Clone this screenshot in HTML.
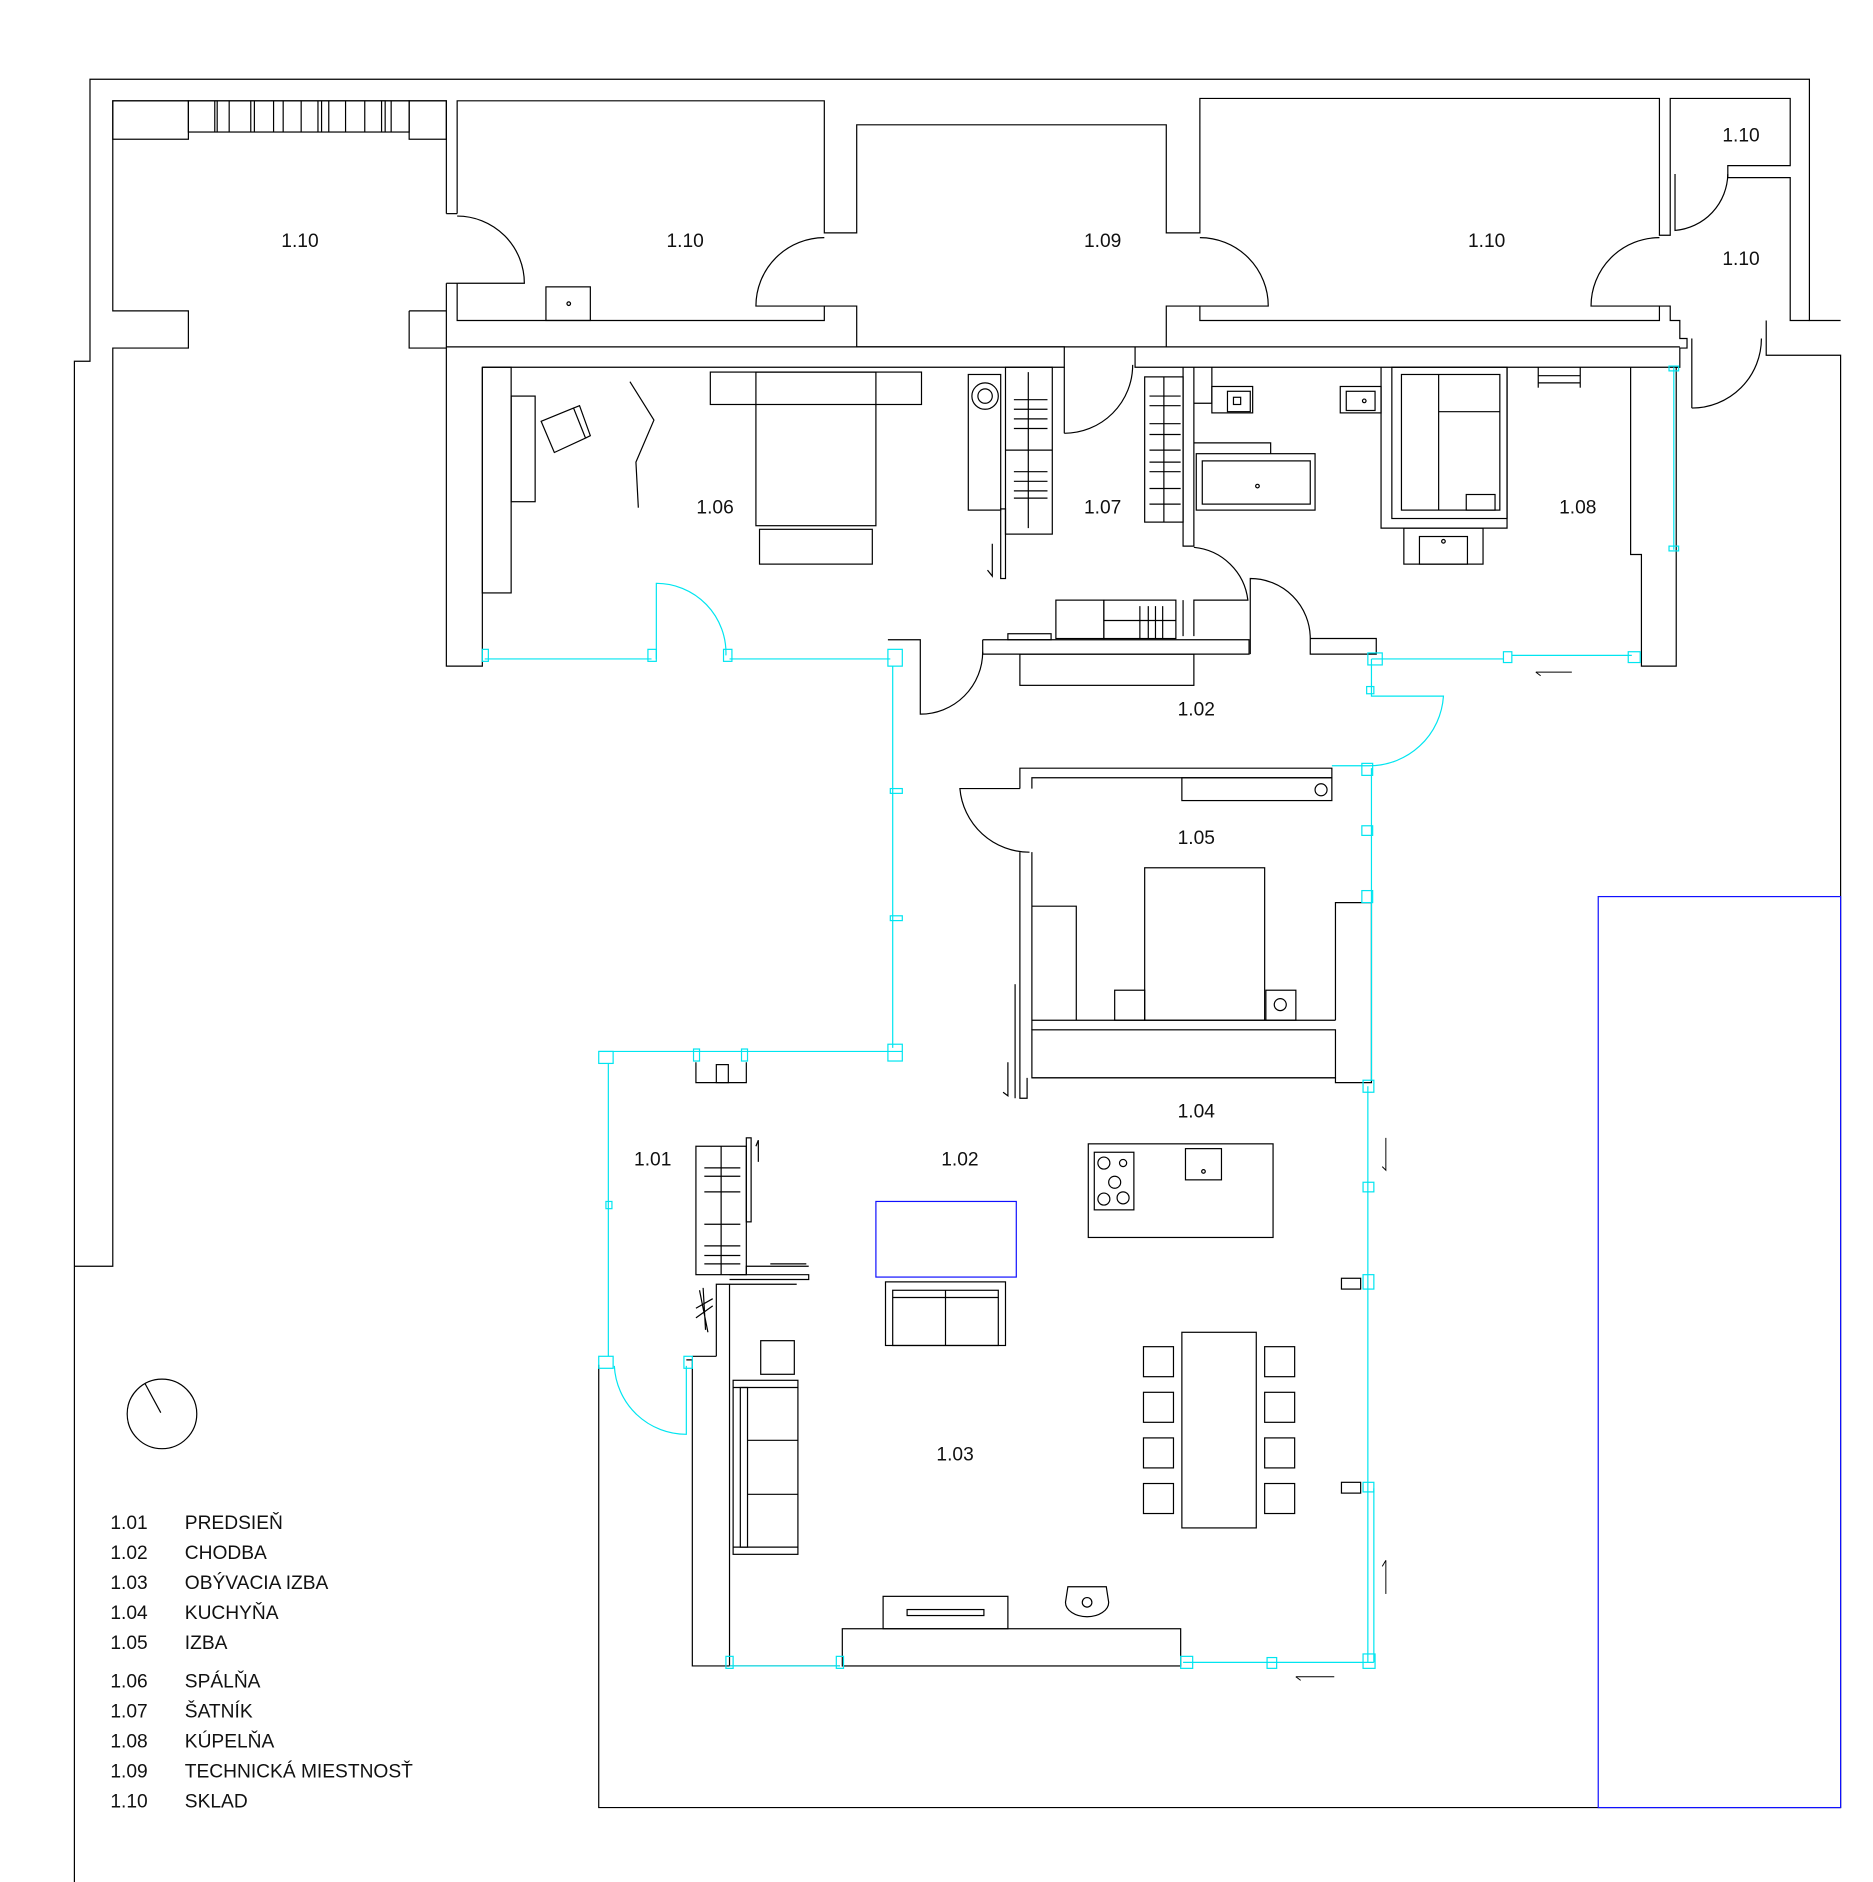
<!DOCTYPE html>
<html><head><meta charset="utf-8"><style>
html,body{margin:0;padding:0;background:#fff}
svg{display:block}
text{font-family:"Liberation Sans",sans-serif;font-size:16px;fill:#111}
</style></head><body>
<svg width="1873" height="1882" viewBox="0 0 1561 1568" preserveAspectRatio="none" xmlns="http://www.w3.org/2000/svg">
<g fill="none" stroke="#000" stroke-width="1">
<!-- outer -->
<polyline points="62,1568 62,301 75,301 75,66 1508,66 1508,267 1534,267"/>
<polyline points="62,1055 94,1055 94,290 157,290 157,259 94,259 94,84 372,84 372,178"/>
<polyline points="1472,267 1472,296 1534,296 1534,1506 499,1506 499,1137"/>
<!-- top-left room -->
<rect x="94" y="84" width="63" height="32"/>
<rect x="157" y="84" width="184" height="26"/>
<rect x="341" y="84" width="31" height="32"/>
<g>
<line x1="179" y1="84" x2="179" y2="110"/><line x1="181" y1="84" x2="181" y2="110"/><line x1="191" y1="84" x2="191" y2="110"/><line x1="209" y1="84" x2="209" y2="110"/><line x1="212" y1="84" x2="212" y2="110"/><line x1="228" y1="84" x2="228" y2="110"/><line x1="236" y1="84" x2="236" y2="110"/><line x1="251" y1="84" x2="251" y2="110"/><line x1="265" y1="84" x2="265" y2="110"/><line x1="268" y1="84" x2="268" y2="110"/><line x1="274" y1="84" x2="274" y2="110"/><line x1="288" y1="84" x2="288" y2="110"/><line x1="304" y1="84" x2="304" y2="110"/><line x1="318" y1="84" x2="318" y2="110"/><line x1="321" y1="84" x2="321" y2="110"/><line x1="326" y1="84" x2="326" y2="110"/>
</g>
<polyline points="372,236 372,555 402,555 402,306"/>
<polyline points="341,259 372,259"/><polyline points="341,259 341,290 372,290"/>
<polyline points="381,178 381,84 687,84 687,194 714,194 714,104 972,104 972,194 1000,194 1000,82 1383,82 1383,196 1392,196 1392,82 1492,82 1492,138 1440,138 1440,148 1492,148 1492,267 1508,267"/>
<polyline points="381,236 381,267 687,267 687,255 714,255 714,289 972,289 972,255 1000,255 1000,267 1383,267 1383,255 1392,255 1392,267 1400,267 1400,282 1406,282 1406,290 1400,290 1400,306 946,306 946,289 1400,289"/>
<polyline points="372,289 887,289 887,306 402,306"/>
<polyline points="372,178 381,178"/><polyline points="372,236 381,236"/>
<rect x="455" y="239" width="37" height="28"/><circle cx="474" cy="253" r="1.5"/>
<!-- doors top -->
<path d="M381,180 A56,56 0 0 1 437,236 L381,236"/>
<path d="M687,198 A57,57 0 0 0 630,255 L687,255"/>
<path d="M1000,198 A57,57 0 0 1 1057,255 L1000,255"/>
<path d="M1383,198 A57,57 0 0 0 1326,255 L1383,255"/>
<path d="M1440,145 A48,48 0 0 1 1396,192 L1396,145"/>
<path d="M1410,340 A58,58 0 0 0 1468,282"/><line x1="1410" y1="282" x2="1410" y2="340"/>
<path d="M887,361 A57,57 0 0 0 944,304"/><line x1="887" y1="306" x2="887" y2="361"/>
<!-- bedroom -->
<rect x="402" y="306" width="24" height="188"/>
<rect x="426" y="330" width="20" height="88"/>
<path d="M451,351 L478,340 L488,365 L462,377 Z M478,340 L483,338 L492,363 L488,365"/>
<polyline points="525,318 545,350 530,385 532,423"/>
<rect x="592" y="310" width="176" height="27"/>
<rect x="630" y="310" width="100" height="128"/>
<rect x="633" y="441" width="94" height="29"/>
<rect x="807" y="312" width="27" height="113"/>
<circle cx="821" cy="330" r="11"/><circle cx="821" cy="330" r="6"/>
<rect x="838" y="306" width="39" height="139"/>
<line x1="838" y1="375" x2="877" y2="375"/>
<line x1="857" y1="310" x2="857" y2="440"/>
<g><line x1="845" y1="333" x2="873" y2="333"/><line x1="845" y1="341" x2="873" y2="341"/><line x1="845" y1="349" x2="873" y2="349"/><line x1="845" y1="357" x2="873" y2="357"/><line x1="845" y1="393" x2="873" y2="393"/><line x1="845" y1="401" x2="873" y2="401"/><line x1="845" y1="409" x2="873" y2="409"/><line x1="845" y1="415" x2="873" y2="415"/></g>
<rect x="834" y="424" width="4" height="58"/>
<polyline points="827,453 827,480 823,475"/>
<!-- 1.07 -->
<rect x="954" y="314" width="32" height="121"/>
<line x1="970" y1="314" x2="970" y2="435"/>
<g><line x1="958" y1="330" x2="984" y2="330"/><line x1="958" y1="338" x2="984" y2="338"/><line x1="958" y1="353" x2="984" y2="353"/><line x1="958" y1="362" x2="984" y2="362"/><line x1="958" y1="375" x2="984" y2="375"/><line x1="958" y1="385" x2="984" y2="385"/><line x1="958" y1="393" x2="984" y2="393"/><line x1="958" y1="407" x2="984" y2="407"/><line x1="958" y1="420" x2="984" y2="420"/></g>
<polyline points="986,306 986,455 995,455 995,306"/>
<path d="M995,456 A50,50 0 0 1 1040,500 L995,500 L995,530"/>
<polyline points="986,500 986,530"/>
<!-- bathroom -->
<polyline points="995,336 1010,336 1010,306"/>
<rect x="1010" y="322" width="34" height="22"/><rect x="1023" y="326" width="19" height="17"/><rect x="1028" y="331" width="6" height="6"/>
<polyline points="995,369 1059,369 1059,378"/>
<rect x="997" y="378" width="99" height="47"/><rect x="1002" y="384" width="90" height="36"/><circle cx="1048" cy="405" r="1.5"/>
<rect x="1117" y="322" width="34" height="22"/><rect x="1122" y="326" width="24" height="16"/><circle cx="1137" cy="334" r="1.5"/>
<polyline points="1151,306 1151,440 1256,440 1256,306"/>
<rect x="1160" y="306" width="96" height="126"/>
<rect x="1168" y="312" width="82" height="113"/>
<line x1="1199" y1="312" x2="1199" y2="425"/>
<line x1="1199" y1="343" x2="1250" y2="343"/>
<rect x="1222" y="412" width="24" height="13"/>
<rect x="1170" y="440" width="66" height="30"/><rect x="1183" y="447" width="40" height="23"/><circle cx="1203" cy="451" r="1.5"/>
<polyline points="1282,306 1282,323"/><polyline points="1317,306 1317,323"/><line x1="1282" y1="313" x2="1317" y2="313"/><line x1="1282" y1="319" x2="1317" y2="319"/>
<polyline points="1359,306 1359,462 1368,462 1368,555 1397,555 1397,306"/>
<!-- corridor 1.02 top -->
<polyline points="740,533 767,533 767,549"/>
<path d="M767,549 L767,595 A52,52 0 0 0 819,543"/>
<polyline points="819,533 819,545 1041,545 1041,533 819,533"/>
<rect x="850" y="545" width="145" height="26"/>
<rect x="880" y="500" width="40" height="32"/><rect x="920" y="500" width="60" height="32"/>
<line x1="920" y1="517" x2="980" y2="517"/>
<line x1="950" y1="505" x2="950" y2="532"/><line x1="957" y1="505" x2="957" y2="532"/><line x1="963" y1="505" x2="963" y2="532"/><line x1="969" y1="505" x2="969" y2="532"/>
<rect x="840" y="528" width="36" height="5"/>
<path d="M1042,545 L1042,482 A50,50 0 0 1 1092,532 L1092,545 L1147,545 L1147,532 L1092,532"/>
<!-- 1.05 -->
<polyline points="850,657 850,640 1110,640 1110,648"/>
<polyline points="860,657 860,648 1110,648"/>
<rect x="985" y="648" width="125" height="19"/><circle cx="1101" cy="658" r="5"/>
<path d="M850,657 L800,657 A58,58 0 0 0 858,710"/>
<polyline points="850,710 850,915 856,915 856,898"/>
<polyline points="860,710 860,858"/>
<polyline points="846,820 846,915"/>
<polyline points="840,885 840,913 836,910"/>
<rect x="954" y="723" width="100" height="127"/>
<polyline points="860,755 897,755 897,850"/>
<rect x="929" y="825" width="25" height="25"/>
<rect x="1055" y="825" width="25" height="25"/><circle cx="1067" cy="837" r="5"/>
<polyline points="1113,850 1113,752 1143,752 1143,902 1113,902 1113,898 860,898"/>
<rect x="860" y="858" width="253" height="40"/>
<line x1="860" y1="850" x2="1113" y2="850"/>
<!-- kitchen -->
<rect x="907" y="953" width="154" height="78"/>
<rect x="912" y="960" width="33" height="48"/>
<circle cx="920" cy="969" r="5"/><circle cx="936" cy="969" r="3"/><circle cx="929" cy="985" r="5"/><circle cx="920" cy="999" r="5"/><circle cx="936" cy="998" r="5"/>
<rect x="988" y="957" width="30" height="26"/><circle cx="1003" cy="976" r="1.5"/>
<!-- 1.01 / 1.03 -->
<polyline points="580,885 580,902 622,902 622,885"/>
<rect x="597" y="887" width="10" height="15"/>
<rect x="580" y="955" width="42" height="107"/>
<line x1="601" y1="955" x2="601" y2="1062"/>
<g><line x1="587" y1="973" x2="617" y2="973"/><line x1="587" y1="980" x2="617" y2="980"/><line x1="587" y1="993" x2="617" y2="993"/><line x1="587" y1="1020" x2="617" y2="1020"/><line x1="587" y1="1038" x2="617" y2="1038"/><line x1="587" y1="1046" x2="617" y2="1046"/><line x1="587" y1="1053" x2="617" y2="1053"/></g>
<rect x="622" y="948" width="4" height="70"/>
<polyline points="632,950 632,968"/><polyline points="632,950 630,955"/>
<polyline points="622,1062 622,1055 674,1055"/><line x1="642" y1="1053" x2="672" y2="1053"/>
<polyline points="608,1062 674,1062 674,1066 608,1066"/>
<polyline points="608,1070 664,1070"/>
<path d="M583,1075 L590,1110 M586,1073 L588,1108 M580,1090 L594,1082 M580,1098 L594,1088"/>
<polyline points="572,1133 577,1133 577,1388 700,1388"/>
<polyline points="597,1130 597,1070 608,1070 608,1388"/>
<line x1="577" y1="1130" x2="597" y2="1130"/>
<rect x="634" y="1117" width="28" height="28"/>
<rect x="611" y="1150" width="54" height="145"/>
<rect x="617" y="1156" width="6" height="133"/>
<line x1="623" y1="1200" x2="665" y2="1200"/><line x1="623" y1="1245" x2="665" y2="1245"/>
<line x1="611" y1="1156" x2="665" y2="1156"/><line x1="611" y1="1289" x2="665" y2="1289"/>
<rect x="738" y="1068" width="100" height="53"/>
<rect x="744" y="1075" width="88" height="46"/>
<line x1="788" y1="1075" x2="788" y2="1121"/><line x1="744" y1="1081" x2="832" y2="1081"/>
<rect x="985" y="1110" width="62" height="163"/>
<rect x="953" y="1122" width="25" height="25"/><rect x="953" y="1160" width="25" height="25"/><rect x="953" y="1198" width="25" height="25"/><rect x="953" y="1236" width="25" height="25"/>
<rect x="1054" y="1122" width="25" height="25"/><rect x="1054" y="1160" width="25" height="25"/><rect x="1054" y="1198" width="25" height="25"/><rect x="1054" y="1236" width="25" height="25"/>
<rect x="1118" y="1065" width="16" height="9"/><rect x="1118" y="1235" width="16" height="9"/>
<rect x="702" y="1357" width="282" height="31"/>
<rect x="736" y="1330" width="104" height="27"/>
<rect x="756" y="1341" width="64" height="5"/>
<path d="M888,1335 A18,12 0 0 0 924,1335 L922,1322 L890,1322 Z"/><circle cx="906" cy="1335" r="4"/>
<!-- compass -->
<circle cx="135" cy="1178" r="29"/>
<line x1="121" y1="1153" x2="134" y2="1177"/>
</g>
<!-- cyan -->
<g fill="none" stroke="#00e5f0" stroke-width="1">
<polyline points="404,549 543,549"/><rect x="402" y="541" width="5" height="10"/><rect x="540" y="541" width="7" height="10"/>
<path d="M547,549 L547,486 A58,58 0 0 1 605,546"/>
<rect x="603" y="541" width="7" height="10"/>
<polyline points="608,549 742,549"/><rect x="740" y="541" width="12" height="14"/>
<polyline points="744,555 744,873"/><rect x="742" y="657" width="10" height="4"/><rect x="742" y="763" width="10" height="4"/>
<polyline points="499,876 752,876"/><rect x="740" y="870" width="12" height="14"/>
<rect x="499" y="876" width="12" height="10"/><rect x="578" y="874" width="5" height="10"/><rect x="618" y="874" width="5" height="10"/>
<polyline points="507,886 507,1130"/><rect x="505" y="1001" width="5" height="6"/>
<rect x="499" y="1130" width="12" height="10"/><rect x="570" y="1130" width="7" height="10"/>
<path d="M512,1138 A60,60 0 0 0 572,1195 L572,1138"/>
<polyline points="608,1388 700,1388"/><rect x="605" y="1380" width="6" height="10"/><rect x="697" y="1380" width="6" height="10"/>
<polyline points="986,1385 1145,1385"/><rect x="984" y="1380" width="10" height="10"/><rect x="1056" y="1381" width="8" height="9"/><rect x="1136" y="1378" width="10" height="12"/>
<polyline points="1145,1240 1145,1385"/>
<polyline points="1140,905 1140,1385"/>
<rect x="1136" y="985" width="9" height="8"/><rect x="1136" y="1062" width="9" height="12"/><rect x="1136" y="1235" width="9" height="8"/><rect x="1136" y="900" width="9" height="10"/>
<polyline points="1143,640 1143,900"/><rect x="1135" y="688" width="9" height="8"/><rect x="1135" y="742" width="9" height="10"/>
<path d="M1110,638 L1140,638 A62,62 0 0 0 1203,580 L1143,580 L1143,549"/><rect x="1135" y="636" width="9" height="10"/><rect x="1139" y="572" width="6" height="6"/>
<polyline points="1143,549 1253,549"/><rect x="1140" y="544" width="12" height="10"/>
<rect x="1253" y="543" width="7" height="9"/><polyline points="1260,546 1360,546"/><rect x="1357" y="543" width="10" height="9"/>
<polyline points="1395,306 1395,458"/><rect x="1391" y="305" width="8" height="4"/><rect x="1391" y="455" width="8" height="4"/>
</g>
<g fill="none" stroke="#000" stroke-width="0.8">
<polyline points="1280,560 1310,560"/><polyline points="1280,560 1284,563"/>
<polyline points="1080,1397 1112,1397"/><polyline points="1080,1397 1084,1400"/>
<polyline points="1155,948 1155,975 1152,972"/><polyline points="1155,1300 1155,1328"/><polyline points="1155,1300 1152,1305"/>
</g>
<g fill="none" stroke="#1010ff" stroke-width="1">
<rect x="1332" y="747" width="202" height="759"/>
<rect x="730" y="1001" width="117" height="63"/>
</g>
<g text-anchor="middle">
<text x="250" y="206">1.10</text><text x="571" y="206">1.10</text><text x="919" y="206">1.09</text><text x="1239" y="206">1.10</text>
<text x="1451" y="118">1.10</text><text x="1451" y="221">1.10</text>
<text x="596" y="428">1.06</text><text x="919" y="428">1.07</text><text x="1315" y="428">1.08</text>
<text x="997" y="596">1.02</text><text x="997" y="703">1.05</text><text x="997" y="931">1.04</text>
<text x="544" y="971">1.01</text><text x="800" y="971">1.02</text><text x="796" y="1217">1.03</text>
</g>
<g>
<text x="92" y="1274">1.01</text><text x="154" y="1274">PREDSIEŇ</text>
<text x="92" y="1299">1.02</text><text x="154" y="1299">CHODBA</text>
<text x="92" y="1324">1.03</text><text x="154" y="1324">OBÝVACIA  IZBA</text>
<text x="92" y="1349">1.04</text><text x="154" y="1349">KUCHYŇA</text>
<text x="92" y="1374">1.05</text><text x="154" y="1374">IZBA</text>
<text x="92" y="1406">1.06</text><text x="154" y="1406">SPÁLŇA</text>
<text x="92" y="1431">1.07</text><text x="154" y="1431">ŠATNÍK</text>
<text x="92" y="1456">1.08</text><text x="154" y="1456">KÚPELŇA</text>
<text x="92" y="1481">1.09</text><text x="154" y="1481">TECHNICKÁ  MIESTNOSŤ</text>
<text x="92" y="1506">1.10</text><text x="154" y="1506">SKLAD</text>
</g>
</svg>
</body></html>
